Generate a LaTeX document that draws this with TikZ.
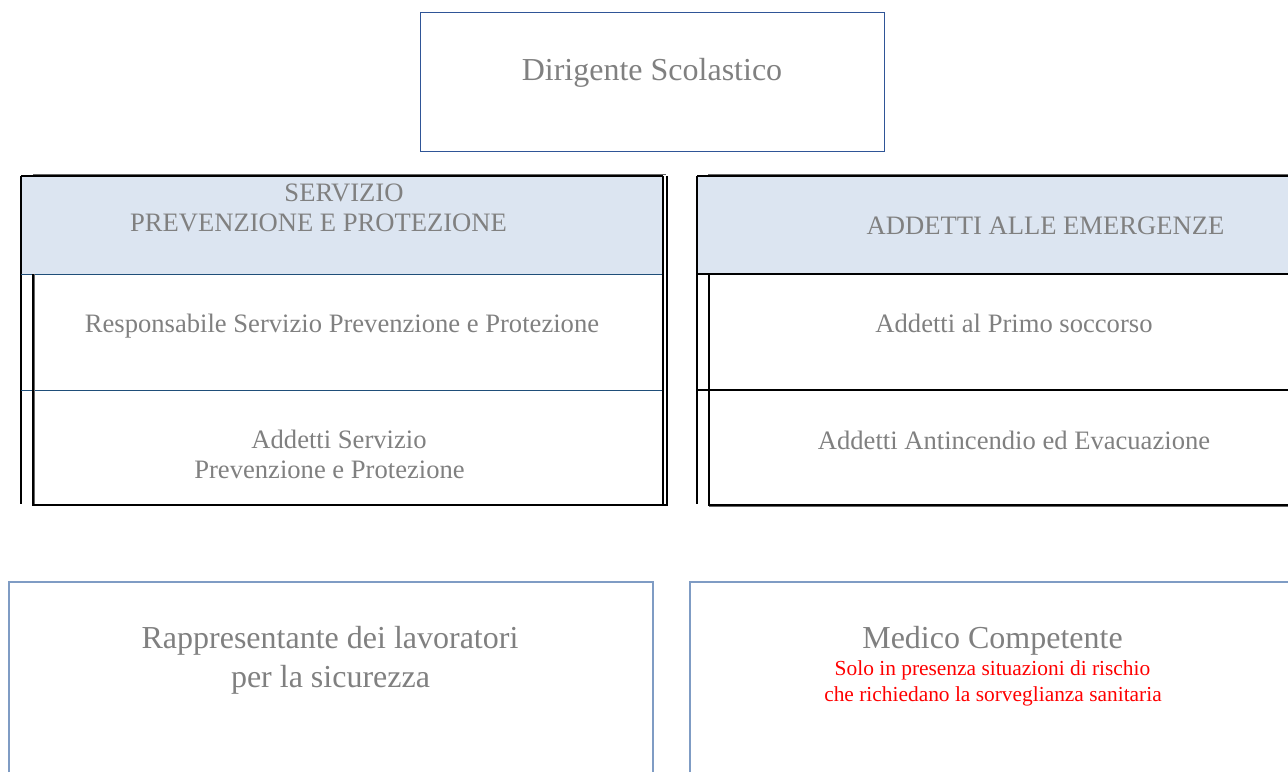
\documentclass[tikz,border=0pt]{standalone}
\usepackage{fontspec}
\setmainfont{Liberation Serif}
\definecolor{txtgrey}{HTML}{808080}
\definecolor{hdrfill}{HTML}{DCE5F1}
\definecolor{topblue}{HTML}{2F5597}
\definecolor{lineblue}{HTML}{1F4E79}
\definecolor{boxblue}{HTML}{7F9CC4}
\definecolor{offgrey}{HTML}{666666}
\tikzset{
  big/.style={text=txtgrey, inner sep=0pt, anchor=base, font=\fontsize{32}{38}\selectfont},
  mid/.style={text=txtgrey, inner sep=0pt, anchor=base, font=\fontsize{26.6}{30}\selectfont},
  note/.style={text=red, inner sep=0pt, anchor=base, font=\fontsize{21.4}{26}\selectfont},
  blk/.style={draw=black, line width=2pt},
  thinblue/.style={draw=lineblue, line width=1pt},
  offline/.style={draw=offgrey, line width=1.5pt},
  outbox/.style={draw=boxblue, line width=1.2pt},
}
\begin{document}
\begin{tikzpicture}[x=1pt,y=-1pt]
\useasboundingbox (0,0) rectangle (1288,772);
% top box
\draw[draw=topblue, line width=1pt] (420,12) rectangle (884,151);
\node[big] (dir) at (652,80) {Dirigente Scolastico};

% ---------- left table ----------
\fill[hdrfill] (21,176) rectangle (664,274);
\draw[offline] (33,174.5) -- (666,174.5);
\draw[blk] (21,176) -- (663,176);
\draw[blk] (21,176) -- (21,504);
\draw[thinblue] (21,274) -- (663,274);
\draw[thinblue] (21,390) -- (663,390);
\draw[offline] (34,274) -- (34,506);
\draw[blk] (33,274) -- (33,505) -- (666,505);
\draw[blk] (663,176) -- (663,505);
\draw[blk] (667,176) -- (667,506);
\node[mid] (serv1) at (344,201) {SERVIZIO};
\node[mid] (serv2) at (318.5,231) {PREVENZIONE E PROTEZIONE};
\node[mid] (rspp) at (342,332) {Responsabile Servizio Prevenzione e Protezione};
\node[mid] (aspp1) at (339,448) {Addetti Servizio};
\node[mid] (aspp2) at (329.5,478) {Prevenzione e Protezione};

% ---------- right table ----------
\fill[hdrfill] (697,176) rectangle (1288,274);
\draw[offline] (708,174.5) -- (1288,174.5);
\draw[blk] (697,176) -- (1288,176);
\draw[blk] (697,176) -- (697,504);
\draw[blk] (697,274) -- (1288,274);
\draw[blk] (697,390) -- (1288,390);
\draw[blk] (709,274) -- (709,505) -- (1288,505);
\draw[offline] (709,506.5) -- (1288,506.5);
\node[mid] (em) at (1045.5,234) {ADDETTI ALLE EMERGENZE};
\node[mid] (ps) at (1014,332) {Addetti al Primo soccorso};
\node[mid] (ai) at (1014,449) {Addetti Antincendio ed Evacuazione};

% ---------- bottom boxes ----------
\draw[outbox] (9,772) -- (9,582) -- (653,582) -- (653,772);
\draw[outbox] (690,772) -- (690,582) -- (1288,582);
\node[big] (rls1) at (330,648) {Rappresentante dei lavoratori};
\node[big] (rls2) at (330.5,687) {per la sicurezza};
\node[big] (mc) at (992.5,648) {Medico Competente};
\node[note] (mc1) at (992.5,675) {Solo in presenza situazioni di rischio};
\node[note] (mc2) at (993,701) {che richiedano la sorveglianza sanitaria};
\end{tikzpicture}
\end{document}
